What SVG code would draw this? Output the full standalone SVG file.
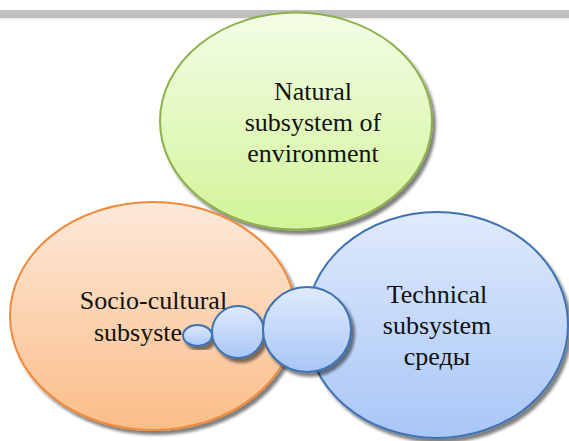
<svg xmlns="http://www.w3.org/2000/svg" width="569" height="441" viewBox="0 0 569 441">
<defs>
<linearGradient id="gGreen" x1="0" y1="0" x2="0" y2="1"><stop offset="0" stop-color="#f3fde7"/><stop offset="1" stop-color="#d2f498"/></linearGradient>
<linearGradient id="gOrange" x1="0" y1="0" x2="0" y2="1"><stop offset="0" stop-color="#fde9da"/><stop offset="1" stop-color="#fbbd88"/></linearGradient>
<linearGradient id="gBlue" x1="0" y1="0" x2="0" y2="1"><stop offset="0" stop-color="#dfeafc"/><stop offset="1" stop-color="#a8c6f6"/></linearGradient>
<filter id="sh" x="-10%" y="-10%" width="125%" height="125%">
<feGaussianBlur in="SourceAlpha" stdDeviation="1.6"/>
<feOffset dx="3" dy="4" result="b"/>
<feComponentTransfer><feFuncA type="linear" slope="0.5"/></feComponentTransfer>
<feMerge><feMergeNode/><feMergeNode in="SourceGraphic"/></feMerge>
</filter>
</defs>
<style>
text{font-family:"Liberation Serif","Times New Roman",serif;font-size:26px;fill:#111;text-anchor:middle}
.green{fill:url(#gGreen);stroke:#8db04c;stroke-width:2}
.orange{fill:url(#gOrange);stroke:#f18b3b;stroke-width:2}
.blue{fill:url(#gBlue);stroke:#3f72b3;stroke-width:2}
</style>
<rect x="0" y="10" width="569" height="8" fill="#c0c0c0"/>
<rect x="0" y="18" width="569" height="1.5" fill="#ececec"/>
<g id="natural">
<ellipse class="green" cx="296" cy="121" rx="136" ry="108.5" filter="url(#sh)"/>
<text x="313" y="100">Natural</text>
<text x="313" y="131">subsystem of</text>
<text x="313" y="162">environment</text>
</g>
<g id="socio">
<ellipse class="orange" cx="153" cy="316" rx="143" ry="114" filter="url(#sh)"/>
<text x="153.5" y="309">Socio-cultural</text>
<text x="94" y="341" style="text-anchor:start">subsyste</text>
</g>
<g id="technical">
<ellipse class="blue" cx="437" cy="325" rx="131" ry="113" filter="url(#sh)"/>
<text x="437" y="303">Technical</text>
<text x="437" y="334">subsystem</text>
<text x="437" y="365">среды</text>
</g>
<g id="connectors">
<ellipse class="blue" cx="197.5" cy="335.5" rx="14.5" ry="10.5" filter="url(#sh)"/>
<circle class="blue" cx="238" cy="332" r="26" filter="url(#sh)"/>
<ellipse class="blue" cx="307" cy="329.5" rx="44" ry="42.5" filter="url(#sh)"/>
</g>
</svg>
